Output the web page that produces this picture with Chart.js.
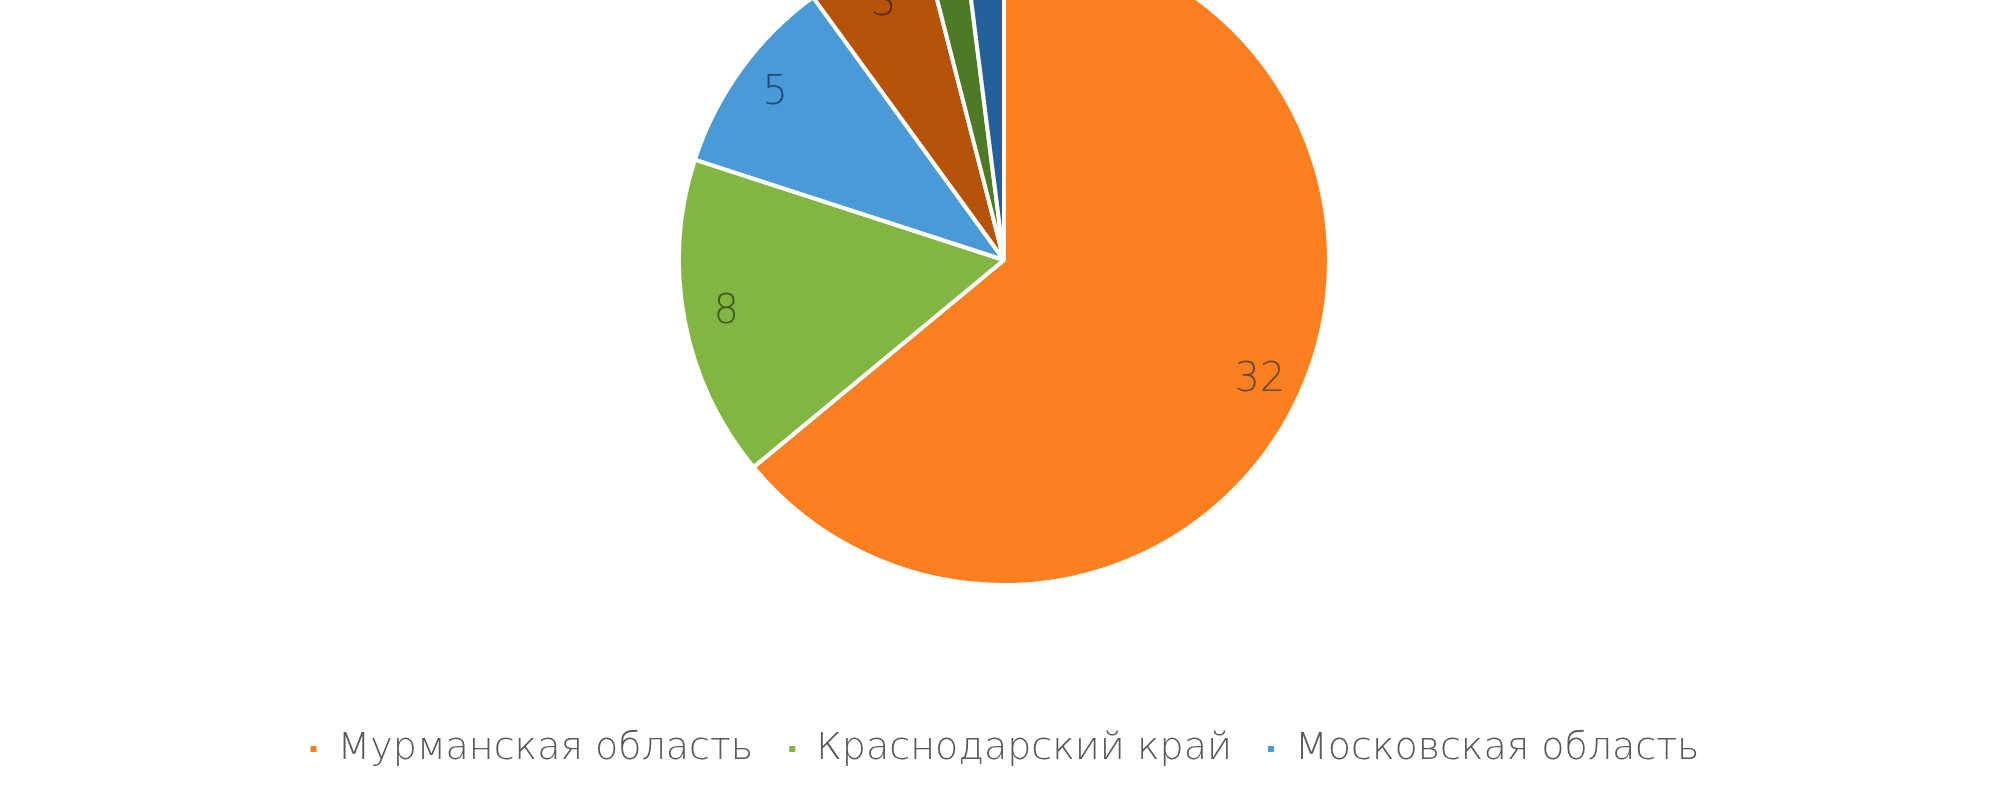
<!DOCTYPE html>
<html><head><meta charset="utf-8">
<script src="https://cdn.jsdelivr.net/npm/chart.js@4/dist/chart.umd.min.js"></script>
<style>
html,body{margin:0;padding:0;background:#fff;overflow:hidden;width:2000px;height:800px}
#wrap{position:absolute;left:0;top:-176px;width:2000px;height:976px}
</style></head><body>
<div id="wrap"><canvas id="c"></canvas></div>
<script>
const categories = ["Мурманская область","Краснодарский край","Московская область","Прочие регионы","Другие регионы A","Другие регионы B"];
const values = [32, 8, 5, 3, 1, 1];
const colors = ["#FD7F20","#82B541","#4A9AD8","#B65309","#4E7A26","#22609E"];
const labelColors = ["#6b4a2c","#3f5a22","#1f4e7a","#5a2a05","#2a4015","#143a60"];
const legendShown = 3;

const valueLabels = {
  id:'valueLabels',
  afterDatasetsDraw(chart){
    const ctx = chart.ctx;
    const meta = chart.getDatasetMeta(0);
    ctx.save();
    ctx.font = '200 40px "DejaVu Sans", sans-serif';
    ctx.textAlign='center'; ctx.textBaseline='middle';
    meta.data.forEach((arc,i)=>{
      const a=(arc.startAngle+arc.endAngle)/2;
      const r=arc.outerRadius*0.87;
      ctx.fillStyle=labelColors[i];
      ctx.fillText(String(values[i]), arc.x+Math.cos(a)*r, arc.y+Math.sin(a)*r);
    });
    ctx.restore();
  }
};

new Chart(document.getElementById('c'),{
  type:'pie',
  data:{labels:categories,datasets:[{data:values,backgroundColor:colors,borderColor:'#ffffff',borderWidth:4,radius:325}]},
  options:{
    responsive:true,maintainAspectRatio:false,animation:false,
    layout:{padding:{left:8,bottom:22}},
    plugins:{
      tooltip:{enabled:false},
      legend:{position:'bottom',
        labels:{font:{family:'"DejaVu Sans", sans-serif',size:38,weight:'200'},color:'#595959',
          boxWidth:10,boxHeight:10,padding:34,
          filter:(item)=>item.index<legendShown}}
    }
  },
  plugins:[valueLabels]
});
</script></body></html>
